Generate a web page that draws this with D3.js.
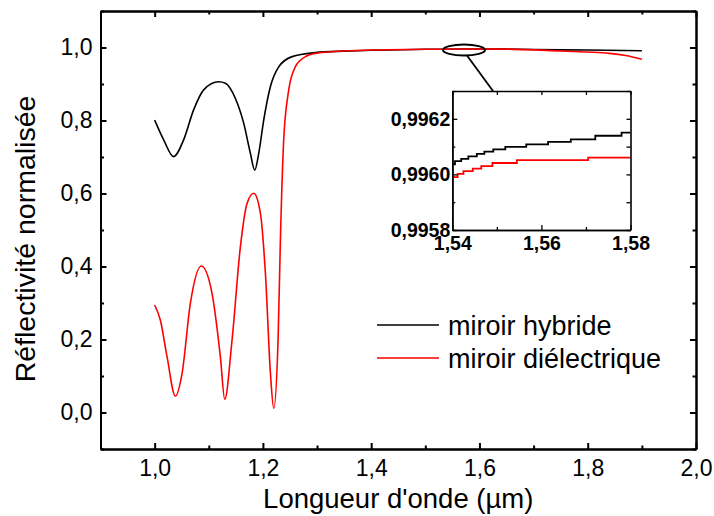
<!DOCTYPE html>
<html>
<head>
<meta charset="utf-8">
<script src="https://cdn.jsdelivr.net/npm/d3@7"></script>
<style>
  html, body { margin: 0; padding: 0; background: #fff; }
  svg { display: block; font-family: "Liberation Sans", Arial, sans-serif; }
</style>
</head>
<body>
<svg id="chart" width="714" height="516"></svg>
<script>
// ---- Data ----
const hybX = [1.000, 1.0167, 1.035, 1.0536, 1.072, 1.0906, 1.1183, 1.1307, 1.149, 1.1646, 1.1769, 1.1849, 1.1923, 1.2015, 1.2139, 1.2292, 1.254, 1.297, 1.35, 1.40, 1.50, 1.56, 1.65, 1.75, 1.80, 1.90];
const hybY = [0.801, 0.747, 0.701, 0.747, 0.829, 0.884, 0.906, 0.902, 0.861, 0.792, 0.710, 0.664, 0.710, 0.801, 0.893, 0.947, 0.975, 0.986, 0.990, 0.9925, 0.995, 0.996, 0.9955, 0.9935, 0.993, 0.991];

const dieX = [1.000, 1.0105, 1.0229, 1.0383, 1.0507, 1.066, 1.0863, 1.106, 1.1214, 1.1295, 1.143, 1.1584, 1.1708, 1.183, 1.1954, 1.2046, 1.2139, 1.220, 1.228, 1.2323, 1.2384, 1.2477, 1.26, 1.2786, 1.297, 1.35, 1.40, 1.50, 1.56, 1.65, 1.75, 1.80, 1.84, 1.87, 1.90];
const dieY = [0.2945, 0.2534, 0.1529, 0.0452, 0.1074, 0.299, 0.4014, 0.3266, 0.1529, 0.036, 0.1986, 0.4542, 0.5731, 0.6005, 0.5457, 0.3814, 0.1074, 0.0115, 0.1986, 0.4726, 0.7466, 0.8836, 0.9474, 0.975, 0.984, 0.9905, 0.993, 0.995, 0.996, 0.9955, 0.9905, 0.9875, 0.984, 0.978, 0.968];

const insetHybX = [1.54, 1.5406, 1.542, 1.5436, 1.5455, 1.5472, 1.5492, 1.5519, 1.5566, 1.5615, 1.5666, 1.5721, 1.578, 1.58];
const insetHybY = [0.996036, 0.996048, 0.996056, 0.996065, 0.996074, 0.996082, 0.996090, 0.996099, 0.996108, 0.996117, 0.996126, 0.996139, 0.996150, 0.996150];
const insetDieX = [1.54, 1.5412, 1.5425, 1.5446, 1.5465, 1.549, 1.5545, 1.5705, 1.58];
const insetDieY = [0.995990, 0.996002, 0.996012, 0.996021, 0.996030, 0.996041, 0.996051, 0.996060, 0.996060];

const xTicks = [1.0, 1.2, 1.4, 1.6, 1.8, 2.0];
const yTicks = [0.0, 0.2, 0.4, 0.6, 0.8, 1.0];
const insetXTicks = [1.54, 1.56, 1.58];
const insetYTicks = [0.9958, 0.9960, 0.9962];

const seriesNames = ["miroir hybride", "miroir diélectrique"];
const seriesColors = ["#000000", "#ff0000"];

const xTitle = "Longueur d'onde (µm)";
const yTitle = "Réflectivité normalisée";

// ---- Layout ----
const svg = d3.select("#chart");
const L = 100.5, R = 696, T = 11, B = 449;
const x = d3.scaleLinear().domain([0.9, 2.0]).range([L, R]);
const y = d3.scaleLinear().domain([-0.1, 1.1]).range([B, T]);
const comma = (f) => (d) => d3.format(f)(d).replace(".", ",");

// curves
const toPts = (xs, ys) => xs.map((v, i) => [v, ys[i]]);
const line = d3.line().x(d => x(d[0])).y(d => y(d[1])).curve(d3.curveMonotoneX);
const g = svg.append("g");
g.append("path").datum(toPts(hybX, hybY)).attr("d", line)
  .attr("fill", "none").attr("stroke", seriesColors[0]).attr("stroke-width", 1.6);
g.append("path").datum(toPts(dieX, dieY)).attr("d", line)
  .attr("fill", "none").attr("stroke", seriesColors[1]).attr("stroke-width", 1.6);

// axes
const minorX = d3.range(0.9, 2.001, 0.1).map(v => +v.toFixed(2)).filter(v => !xTicks.some(t => Math.abs(t - v) < 1e-6));
const minorY = d3.range(-0.1, 1.101, 0.1).map(v => +v.toFixed(2)).filter(v => !yTicks.some(t => Math.abs(t - v) < 1e-6));

function styleAxis(sel, fs) {
  sel.selectAll("path.domain").attr("stroke", "#000").attr("stroke-width", 2);
  sel.selectAll(".tick line").attr("stroke", "#000").attr("stroke-width", 2);
  sel.selectAll(".tick text").attr("fill", "#000").style("font-size", fs + "px");
}

const axB = svg.append("g").attr("transform", `translate(0,${B})`)
  .call(d3.axisBottom(x).tickValues(xTicks).tickFormat(comma(".1f")).tickSize(-6).tickPadding(11).tickSizeOuter(0));
styleAxis(axB, 23);
svg.append("g").attr("transform", `translate(0,${B})`)
  .call(d3.axisBottom(x).tickValues(minorX).tickFormat("").tickSize(-3.5).tickSizeOuter(0)).call(s => styleAxis(s, 0));
const axT = svg.append("g").attr("transform", `translate(0,${T})`)
  .call(d3.axisTop(x).tickValues(xTicks).tickFormat("").tickSize(-6).tickSizeOuter(0));
styleAxis(axT, 0);
svg.append("g").attr("transform", `translate(0,${T})`)
  .call(d3.axisTop(x).tickValues(minorX).tickFormat("").tickSize(-3.5).tickSizeOuter(0)).call(s => styleAxis(s, 0));

const axL = svg.append("g").attr("transform", `translate(${L},0)`)
  .call(d3.axisLeft(y).tickValues(yTicks).tickFormat(comma(".1f")).tickSize(-6).tickPadding(8).tickSizeOuter(0));
styleAxis(axL, 23);
svg.append("g").attr("transform", `translate(${L},0)`)
  .call(d3.axisLeft(y).tickValues(minorY).tickFormat("").tickSize(-3.5).tickSizeOuter(0)).call(s => styleAxis(s, 0));
const axR = svg.append("g").attr("transform", `translate(${R},0)`)
  .call(d3.axisRight(y).tickValues(yTicks).tickFormat("").tickSize(-6).tickSizeOuter(0));
styleAxis(axR, 0);
svg.append("g").attr("transform", `translate(${R},0)`)
  .call(d3.axisRight(y).tickValues(minorY).tickFormat("").tickSize(-3.5).tickSizeOuter(0)).call(s => styleAxis(s, 0));

// titles
svg.append("text").attr("x", (L + R) / 2).attr("y", 508).attr("text-anchor", "middle")
  .style("font-size", "27.5px").text(xTitle);
svg.append("text").attr("transform", `translate(35,239) rotate(-90)`).attr("text-anchor", "middle")
  .style("font-size", "28.5px").text(yTitle);

// legend
const legY = [325, 358];
seriesNames.forEach((name, i) => {
  svg.append("line").attr("x1", 377).attr("x2", 439).attr("y1", legY[i]).attr("y2", legY[i])
    .attr("stroke", seriesColors[i]).attr("stroke-width", 1.6);
  svg.append("text").attr("x", 448).attr("y", legY[i] + 9.5).style("font-size", "27px").text(name);
});

// ---- Inset ----
const iL = 452.3, iR = 630.5, iT = 91, iB = 230;
const ix = d3.scaleLinear().domain([1.54, 1.58]).range([iL, iR]);
const iy = d3.scaleLinear().domain([0.9958, 0.9963]).range([iB, iT]);

// zoom marker ellipse + connector
svg.append("ellipse").attr("cx", 464).attr("cy", 50).attr("rx", 21).attr("ry", 5.5)
  .attr("fill", "none").attr("stroke", "#000").attr("stroke-width", 2);
svg.append("line").attr("x1", 467).attr("y1", 55.5).attr("x2", 493).attr("y2", iT)
  .attr("stroke", "#000").attr("stroke-width", 1.8);

svg.append("rect").attr("x", iL).attr("y", iT).attr("width", iR - iL).attr("height", iB - iT).attr("fill", "#fff");
svg.append("clipPath").attr("id", "iclip").append("rect")
  .attr("x", iL).attr("y", iT).attr("width", iR - iL).attr("height", iB - iT);
const iline = d3.line().x(d => ix(d[0])).y(d => iy(d[1])).curve(d3.curveStepAfter);
const ig = svg.append("g").attr("clip-path", "url(#iclip)");
ig.append("path").datum(toPts(insetHybX, insetHybY)).attr("d", iline)
  .attr("fill", "none").attr("stroke", seriesColors[0]).attr("stroke-width", 1.8);
ig.append("path").datum(toPts(insetDieX, insetDieY)).attr("d", iline)
  .attr("fill", "none").attr("stroke", seriesColors[1]).attr("stroke-width", 1.8);

const iMinorX = [1.55, 1.57];
const iMinorY = [0.9959, 0.9961, 0.9963];
function styleInset(sel) {
  sel.selectAll("path.domain").attr("stroke", "#000").attr("stroke-width", 1.6);
  sel.selectAll(".tick line").attr("stroke", "#000").attr("stroke-width", 1.3);
  sel.selectAll(".tick text").attr("fill", "#000").style("font-size", "19.5px").style("font-weight", "bold");
}
svg.append("g").attr("transform", `translate(0,${iB})`)
  .call(d3.axisBottom(ix).tickValues(insetXTicks).tickFormat(comma(".2f")).tickSize(-5).tickPadding(6).tickSizeOuter(0)).call(styleInset);
svg.append("g").attr("transform", `translate(0,${iB})`)
  .call(d3.axisBottom(ix).tickValues(iMinorX).tickFormat("").tickSize(-3).tickSizeOuter(0)).call(styleInset);
svg.append("g").attr("transform", `translate(0,${iT})`)
  .call(d3.axisTop(ix).tickValues(insetXTicks.concat(iMinorX)).tickFormat("").tickSize(-4).tickSizeOuter(0)).call(styleInset);
svg.append("g").attr("transform", `translate(${iL},0)`)
  .call(d3.axisLeft(iy).tickValues(insetYTicks).tickFormat(comma(".4f")).tickSize(-5).tickPadding(2).tickSizeOuter(0)).call(styleInset);
svg.append("g").attr("transform", `translate(${iL},0)`)
  .call(d3.axisLeft(iy).tickValues(iMinorY).tickFormat("").tickSize(-3).tickSizeOuter(0)).call(styleInset);
svg.append("g").attr("transform", `translate(${iR},0)`)
  .call(d3.axisRight(iy).tickValues(insetYTicks.concat(iMinorY)).tickFormat("").tickSize(-4).tickSizeOuter(0)).call(styleInset);
</script>
</body>
</html>
